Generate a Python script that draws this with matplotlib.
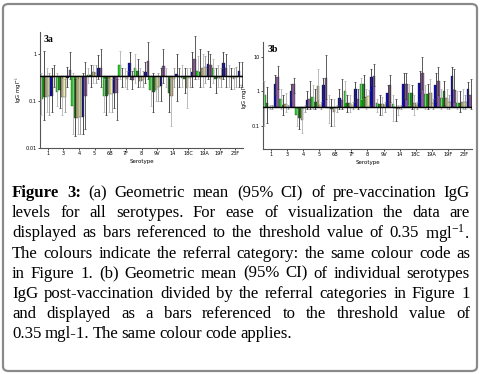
import numpy as np
import matplotlib
matplotlib.use('Agg')
import matplotlib.pyplot as plt
from matplotlib.patches import FancyBboxPatch

plt.rcParams['mathtext.fontset'] = 'stix'

serotypes = ['1', '3', '4', '5', '6B', '7F', '8', '9V', '14', '18C', '19A', '19F', '23F']
cat_colors = ['#19d219', '#1e8c1e', '#a9a070', '#f0eea0', '#0b0ba8', '#8c5a9e']
whisker_colors = ['#b0b0b0', '#303030', '#b0b0b0', '#909090', '#303030', '#404040']
threshold = 0.35

# 3a: pre-vaccination geometric means (6 referral categories per serotype)
pre_gm = [
    [0.11, 0.12, 0.12, 0.13, 0.13, 0.33],
    [0.16, 0.17, 0.12, 0.12, 0.32, 0.46],
    [0.08, 0.043, 0.043, 0.045, 0.047, 0.13],
    [0.36, 0.37, 0.42, 0.40, 0.52, 0.52],
    [0.13, 0.13, 0.14, 0.14, 0.15, 0.15],
    [0.60, 0.35, 0.33, 0.30, 0.66, 0.28],
    [0.50, 0.45, 0.27, 0.28, 0.42, 0.72],
    [0.17, 0.16, 0.17, 0.20, 0.21, 0.56],
    [0.35, 0.15, 0.13, 0.30, 0.38, 0.33],
    [0.31, 0.30, 0.19, 0.32, 0.43, 0.80],
    [0.45, 0.43, 0.50, 0.55, 0.61, 0.58],
    [0.50, 0.30, 0.32, 0.30, 0.66, 0.50],
    [0.33, 0.33, 0.30, 0.33, 0.45, 0.33],
]
pre_lo = [
    [0.05, 0.04, 0.06, 0.05, 0.06, 0.20],
    [0.08, 0.07, 0.05, 0.06, 0.20, 0.30],
    [0.02, 0.018, 0.02, 0.02, 0.02, 0.025],
    [0.25, 0.20, 0.25, 0.25, 0.30, 0.20],
    [0.06, 0.05, 0.06, 0.06, 0.07, 0.04],
    [0.30, 0.20, 0.20, 0.18, 0.30, 0.18],
    [0.25, 0.20, 0.20, 0.20, 0.25, 0.30],
    [0.08, 0.06, 0.10, 0.10, 0.10, 0.25],
    [0.20, 0.06, 0.03, 0.20, 0.10, 0.20],
    [0.20, 0.15, 0.07, 0.20, 0.20, 0.30],
    [0.30, 0.20, 0.20, 0.25, 0.30, 0.20],
    [0.25, 0.15, 0.20, 0.20, 0.30, 0.20],
    [0.20, 0.18, 0.18, 0.20, 0.20, 0.20],
]
pre_hi = [
    [0.40, 1.20, 0.50, 0.40, 0.50, 0.60],
    [0.40, 0.35, 0.30, 0.30, 0.55, 1.10],
    [0.40, 0.30, 0.30, 0.35, 0.40, 0.70],
    [0.50, 0.60, 0.60, 0.60, 0.95, 1.30],
    [0.30, 0.35, 0.30, 0.30, 0.35, 0.30],
    [1.20, 0.50, 0.50, 0.45, 1.10, 0.45],
    [1.00, 0.80, 0.50, 0.45, 0.70, 1.80],
    [0.35, 0.40, 0.35, 0.40, 0.50, 1.30],
    [0.50, 0.30, 0.30, 0.50, 1.00, 0.50],
    [0.60, 0.50, 0.50, 0.50, 1.10, 2.50],
    [0.90, 1.30, 1.00, 0.90, 1.20, 1.00],
    [0.80, 0.50, 0.60, 0.50, 1.10, 1.00],
    [0.60, 0.50, 0.50, 0.55, 0.70, 0.70],
]

# 3b: post-vaccination geometric means
post_gm = [
    [0.78, 0.45, 0.35, 0.35, 1.60, 2.60],
    [0.60, 0.40, 0.42, 0.35, 1.00, 1.60],
    [0.20, 0.17, 0.15, 0.33, 0.54, 0.58],
    [0.67, 0.50, 1.45, 0.40, 1.50, 2.40],
    [0.32, 0.30, 0.25, 0.33, 0.63, 0.54],
    [1.00, 0.45, 0.45, 0.40, 1.20, 0.60],
    [1.60, 1.60, 0.70, 0.75, 2.60, 2.70],
    [0.45, 0.42, 0.42, 0.40, 0.90, 1.50],
    [0.42, 0.33, 0.30, 0.35, 1.60, 1.60],
    [0.90, 0.90, 0.45, 0.40, 1.75, 3.30],
    [0.85, 0.85, 0.90, 0.45, 1.55, 1.95],
    [0.65, 1.05, 0.65, 0.50, 2.80, 1.10],
    [0.45, 0.45, 0.50, 0.50, 1.15, 0.80],
]
post_lo = [
    [0.10, 0.12, 0.30, 0.30, 0.80, 1.20],
    [0.30, 0.20, 0.25, 0.30, 0.50, 0.90],
    [0.10, 0.08, 0.06, 0.25, 0.30, 0.30],
    [0.30, 0.30, 0.60, 0.30, 0.60, 0.60],
    [0.12, 0.10, 0.10, 0.25, 0.30, 0.30],
    [0.50, 0.25, 0.25, 0.30, 0.50, 0.30],
    [0.60, 0.70, 0.30, 0.40, 1.50, 1.40],
    [0.25, 0.20, 0.20, 0.25, 0.40, 0.50],
    [0.14, 0.14, 0.20, 0.30, 0.60, 0.60],
    [0.40, 0.30, 0.20, 0.30, 0.90, 1.20],
    [0.30, 0.30, 0.40, 0.30, 0.50, 0.80],
    [0.30, 0.40, 0.30, 0.30, 1.20, 0.50],
    [0.30, 0.25, 0.30, 0.30, 0.60, 0.30],
]
post_hi = [
    [2.00, 1.30, 0.40, 0.40, 3.00, 5.50],
    [1.20, 0.80, 0.90, 0.40, 1.60, 2.50],
    [0.30, 0.30, 0.30, 0.40, 1.00, 2.00],
    [1.50, 1.20, 4.50, 0.50, 2.50, 11.0],
    [0.80, 0.60, 0.60, 0.40, 1.20, 2.20],
    [2.00, 0.80, 0.80, 0.50, 1.80, 1.20],
    [2.50, 3.00, 1.20, 1.10, 4.50, 6.00],
    [0.60, 0.80, 0.70, 0.50, 1.50, 3.00],
    [0.80, 0.60, 0.40, 0.40, 3.30, 3.30],
    [1.60, 1.50, 0.80, 0.50, 4.00, 10.0],
    [1.50, 1.60, 2.20, 0.60, 3.50, 5.00],
    [1.20, 2.00, 1.20, 0.80, 5.00, 4.50],
    [1.00, 1.00, 1.20, 0.80, 1.80, 2.20],
]

caption_lines = [
    [('Figure', 'bold'), ('3:', 'bold'), '(a)', 'Geometric', 'mean', '(95%', 'CI)', 'of', 'pre-vaccination', 'IgG'],
    ['levels', 'for', 'all', 'serotypes.', 'For', 'ease', 'of', 'visualization', 'the', 'data', 'are'],
    ['displayed', 'as', 'bars', 'referenced', 'to', 'the', 'threshold', 'value', 'of', '0.35', r'mgl$^{\mathregular{-1}}$.'],
    ['The', 'colours', 'indicate', 'the', 'referral', 'category:', 'the', 'same', 'colour', 'code', 'as'],
    ['in', 'Figure', '1.', '(b)', 'Geometric', 'mean', '(95%', 'CI)', 'of', 'individual', 'serotypes'],
    ['IgG', 'post-vaccination', 'divided', 'by', 'the', 'referral', 'categories', 'in', 'Figure', '1'],
    ['and', 'displayed', 'as', 'a', 'bars', 'referenced', 'to', 'the', 'threshold', 'value', 'of'],
    ['0.35', 'mgl-1.', 'The', 'same', 'colour', 'code', 'applies.'],
]

W, H = 481, 374
fig = plt.figure(figsize=(W / 100, H / 100), dpi=100)
fig.patch.set_facecolor('white')

border = FancyBboxPatch((3 / W, 3 / H), 474 / W, 367 / H, boxstyle='round,pad=0,rounding_size=0.012',
                        transform=fig.transFigure, facecolor='none', edgecolor='#8a8a8a', linewidth=1.6)
fig.patches.append(border)


def draw_panel(ax, gm, lo, hi, ylim, label):
    gm = np.array(gm)
    lo = np.array(lo)
    hi = np.array(hi)
    n_grp, n_cat = gm.shape
    x = np.arange(n_grp)
    w = 0.98 / n_cat
    ax.set_yscale('log')
    for j in range(n_cat):
        xs = x - 0.49 + w * (j + 0.5)
        ax.bar(xs, gm[:, j] - threshold, bottom=threshold, width=w, color=cat_colors[j],
               edgecolor='#2a2a2a', linewidth=0.25, zorder=2)
        yerr = np.vstack([np.maximum(gm[:, j] - lo[:, j], 0), np.maximum(hi[:, j] - gm[:, j], 0)])
        ax.errorbar(xs, gm[:, j], yerr=yerr, fmt='none', ecolor=whisker_colors[j],
                    elinewidth=0.6, capsize=0.8, capthick=0.5, zorder=3)
    ax.axhline(threshold, color='black', linewidth=1.0, zorder=4)
    ax.set_xlim(-0.5, n_grp - 0.5)
    ax.set_ylim(*ylim)
    ax.set_xticks(x)
    ax.set_xticklabels(serotypes, fontsize=3.6)
    ax.yaxis.set_major_formatter(matplotlib.ticker.FuncFormatter(lambda v, p: f'{v:g}'))
    ax.yaxis.set_minor_locator(matplotlib.ticker.NullLocator())
    ax.tick_params(axis='y', labelsize=3.6, length=1.5, width=0.5, pad=1)
    ax.tick_params(axis='x', length=1.5, width=0.5, pad=1)
    for s in ['top', 'right']:
        ax.spines[s].set_visible(False)
    for s in ['left', 'bottom']:
        ax.spines[s].set_linewidth(0.8)
        ax.spines[s].set_color('#555555')
    ax.set_xlabel('Serotype', fontsize=4, labelpad=1.5)
    ax.set_ylabel(r'IgG mgl$^{-1}$', fontsize=3.8, labelpad=1, family='DejaVu Sans')
    ax.text(0.02, 0.97, label, transform=ax.transAxes, fontsize=7, fontweight='bold',
            family='Liberation Serif', va='top', ha='left', zorder=5)


ax_a = fig.add_axes([40 / W, 1 - 148 / H, 203 / W, 116 / H])
draw_panel(ax_a, pre_gm, pre_lo, pre_hi, (0.01, 3.0), '3a')
ax_b = fig.add_axes([263 / W, 1 - 149 / H, 209 / W, 107 / H])
draw_panel(ax_b, post_gm, post_lo, post_hi, (0.021, 27), '3b')

# justified caption
renderer = fig.canvas.get_renderer()
x_left, x_right = 12, 470
y0, dy = 193, 20.2
for i, line in enumerate(caption_lines):
    items = [w if isinstance(w, tuple) else (w, 'normal') for w in line]
    texts = []
    for word, weight in items:
        t = fig.text(0, 1 - (y0 + i * dy) / H, word, fontsize=12.1, family='Liberation Serif',
                     fontweight=weight, va='center', ha='left')
        texts.append(t)
    widths = [t.get_window_extent(renderer).width for t in texts]
    if i < len(caption_lines) - 1:
        gap = (x_right - x_left - sum(widths)) / (len(texts) - 1)
    else:
        gap = 3.3
    xpos = x_left
    for t, wd in zip(texts, widths):
        t.set_x(xpos / W)
        xpos += wd + gap

fig.savefig('out.png', dpi=100)
